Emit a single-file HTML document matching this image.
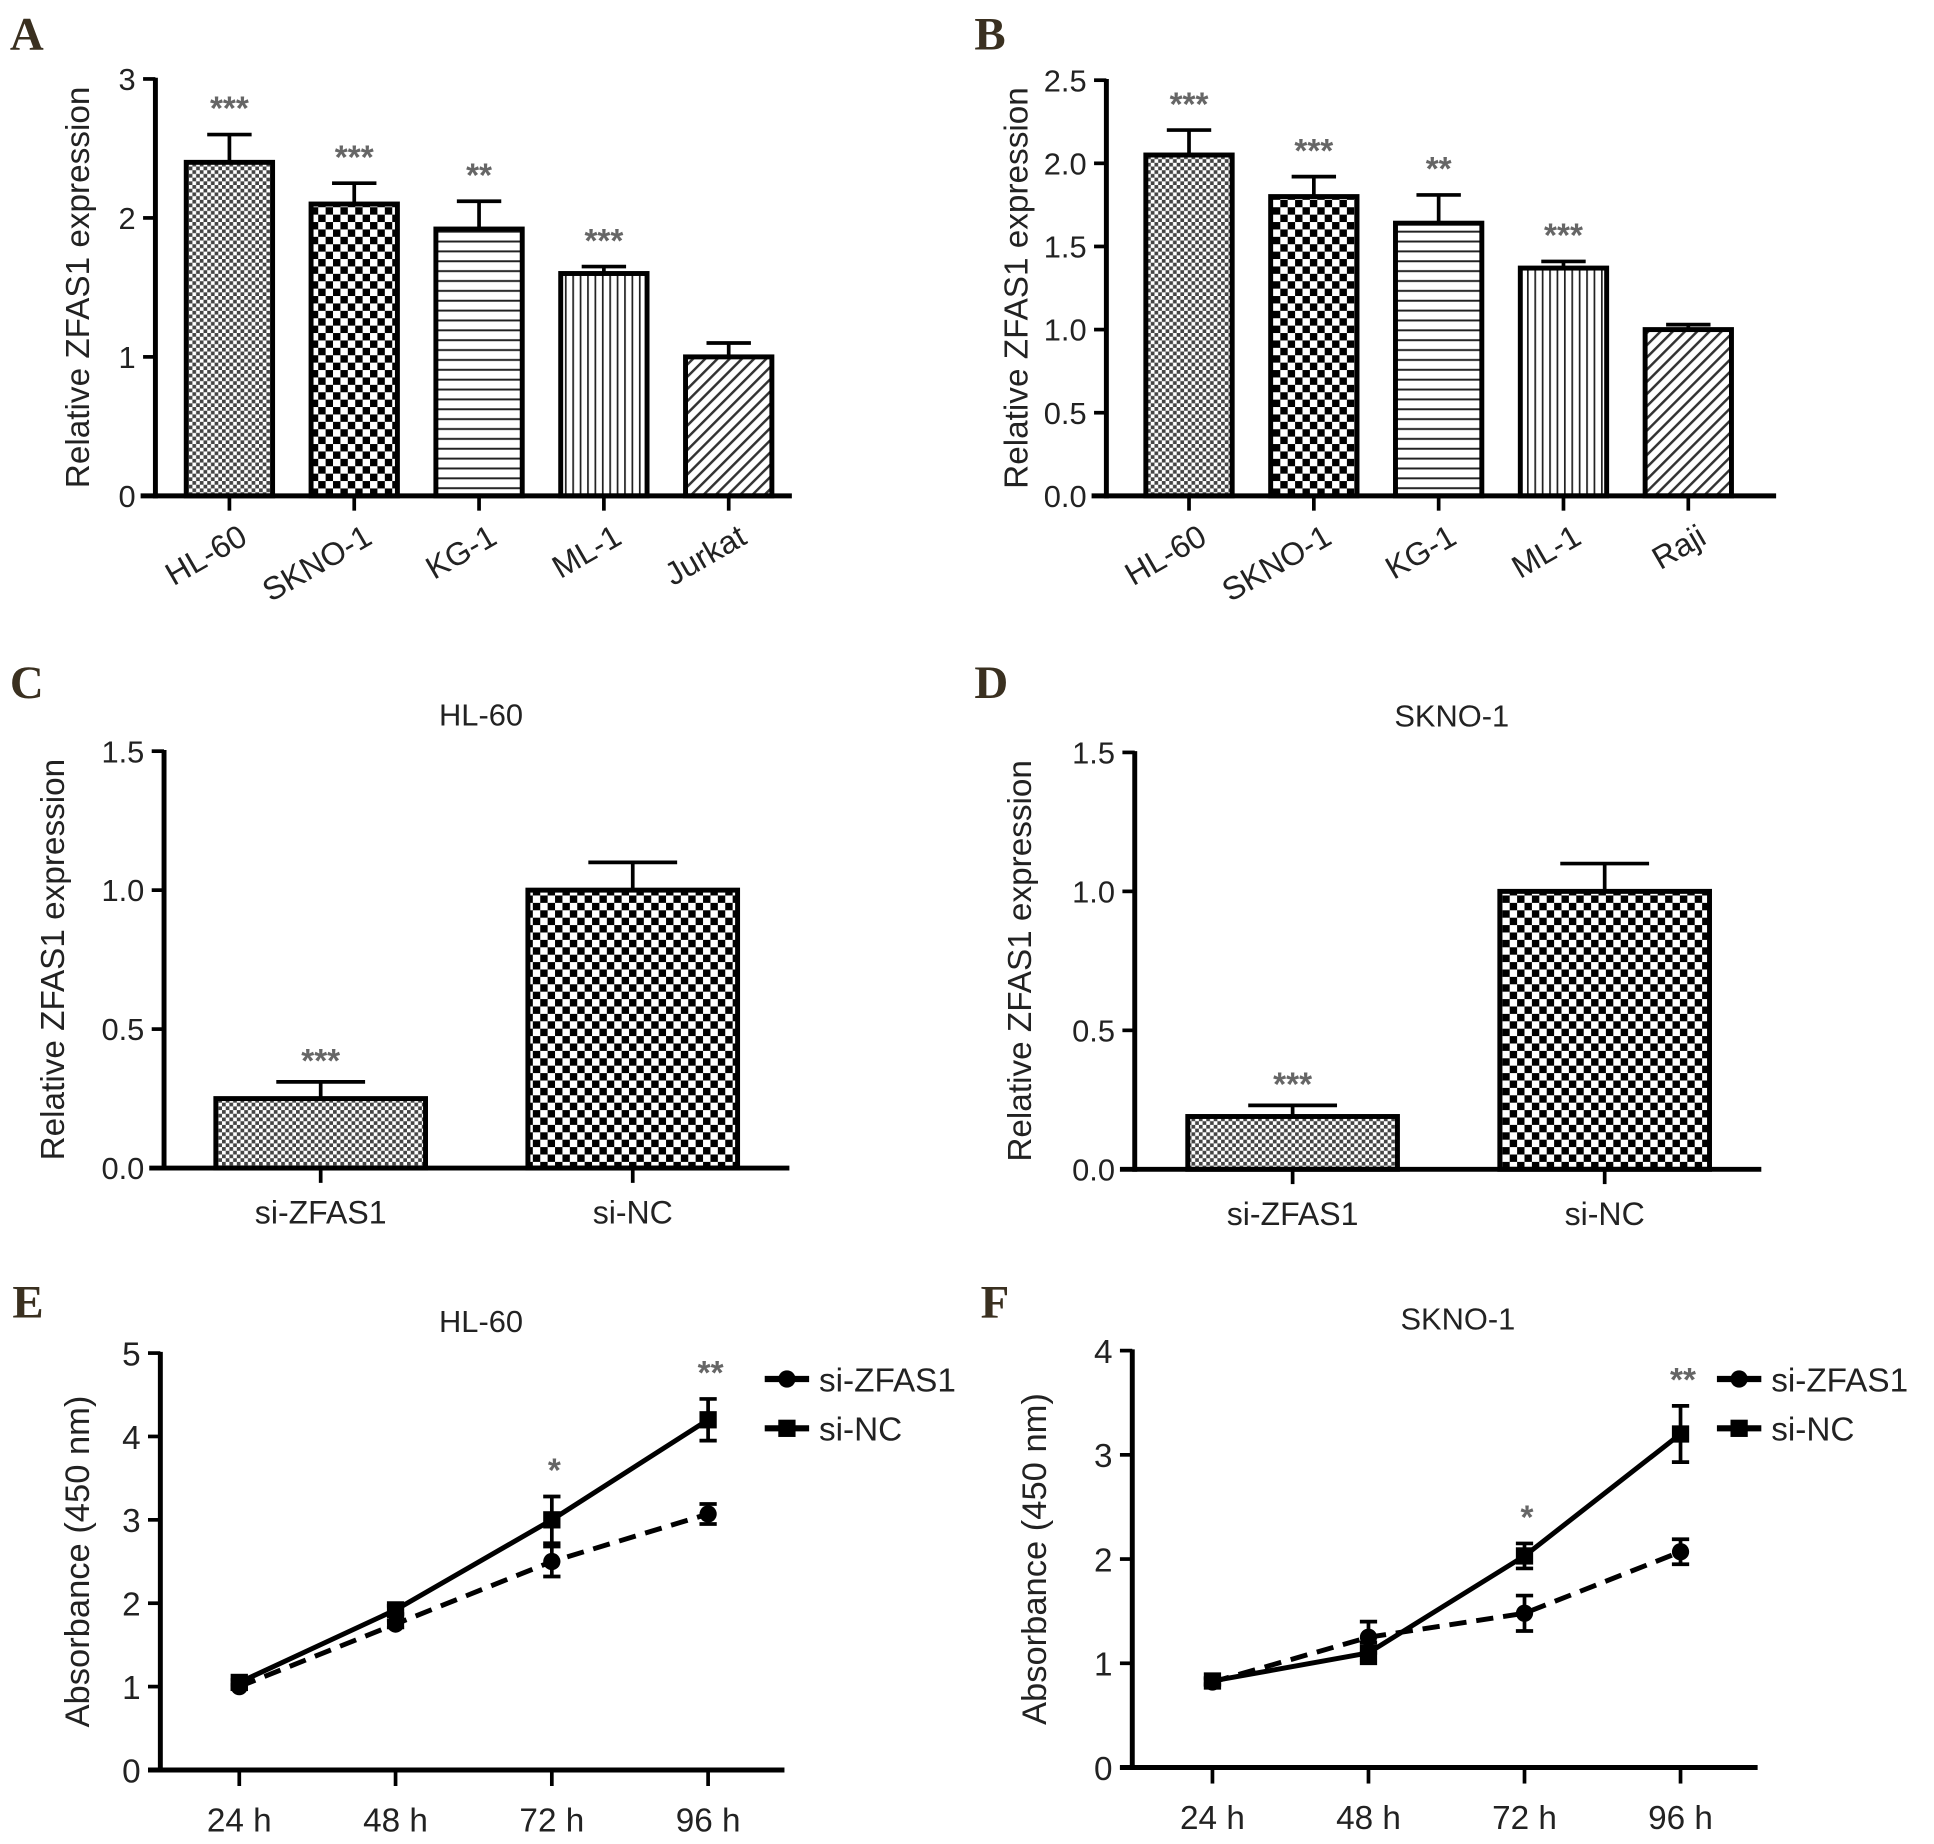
<!DOCTYPE html>
<html><head><meta charset="utf-8">
<style>
html,body{margin:0;padding:0;background:#fff;}
svg{display:block;}
text{font-family:"Liberation Sans",Arial,sans-serif;}
.letter{font-family:"Liberation Serif",serif;font-weight:bold;font-size:38px;fill:#3a3020;}
</style></head>
<body>
<svg id="fig" width="1934" height="1844" viewBox="0 0 1568 1495" xmlns="http://www.w3.org/2000/svg">
<defs>
<pattern id="pFine" width="6" height="6" patternUnits="userSpaceOnUse"><rect width="6" height="6" fill="#fff"/><rect width="3" height="3" fill="#444"/><rect x="3" y="3" width="3" height="3" fill="#444"/></pattern>
<pattern id="pCoarse" width="12" height="12" patternUnits="userSpaceOnUse"><rect width="12" height="12" fill="#fff"/><rect width="6" height="6" fill="#000"/><rect x="6" y="6" width="6" height="6" fill="#000"/></pattern>
<pattern id="pHoriz" width="8" height="8" patternUnits="userSpaceOnUse"><rect width="8" height="8" fill="#fff"/><rect y="3" width="8" height="1.6" fill="#222"/></pattern>
<pattern id="pVert" width="6" height="6" patternUnits="userSpaceOnUse"><rect width="6" height="6" fill="#fff"/><rect x="2" width="1.4" height="6" fill="#222"/></pattern>
<pattern id="pDiag" width="7" height="7" patternUnits="userSpaceOnUse" patternTransform="rotate(45)"><rect width="7" height="7" fill="#fff"/><rect width="2" height="7" fill="#333"/></pattern>
</defs>
</svg>
<script>
// ---- Panel A data ----
const aCats = ["HL-60","SKNO-1","KG-1","ML-1","Jurkat"];
const aVals = [2.4,2.1,1.92,1.6,1.0];
const aErrs = [0.2,0.15,0.2,0.05,0.1];
const aStars = ["***","***","**","***",""];
const aTicks = [0,1,2,3];
// ---- Panel B data ----
const bCats = ["HL-60","SKNO-1","KG-1","ML-1","Raji"];
const bVals = [2.05,1.8,1.64,1.37,1.0];
const bErrs = [0.15,0.12,0.17,0.04,0.03];
const bStars = ["***","***","**","***",""];
const bTicks = [0,0.5,1,1.5,2,2.5];
// ---- Panel C data ----
const cCats = ["si-ZFAS1","si-NC"];
const cVals = [0.25,1.0];
const cErrs = [0.06,0.1];
const cStars = ["***",""];
const cTicks = [0,0.5,1,1.5];
// ---- Panel D data ----
const dCats = ["si-ZFAS1","si-NC"];
const dVals = [0.19,1.0];
const dErrs = [0.04,0.1];
const dStars = ["***",""];
const dTicks = [0,0.5,1,1.5];
// ---- Panel E data ----
const eTimes = ["24 h","48 h","72 h","96 h"];
const eZfas = [1.0,1.75,2.5,3.07];
const eZfasErr = [0.03,0.04,0.18,0.12];
const eNc = [1.05,1.92,3.0,4.2];
const eNcErr = [0.03,0.05,0.28,0.25];
const eStars = ["","","*","**"];
const eTicks = [0,1,2,3,4,5];
// ---- Panel F data ----
const fTimes = ["24 h","48 h","72 h","96 h"];
const fZfas = [0.82,1.25,1.48,2.07];
const fZfasErr = [0.03,0.15,0.17,0.12];
const fNc = [0.83,1.1,2.03,3.2];
const fNcErr = [0.03,0.1,0.12,0.27];
const fStars = ["","","*","**"];
const fTicks = [0,1,2,3,4];

const svg = document.getElementById('fig');
const NS = "http://www.w3.org/2000/svg";
function mk(tag, attrs, parent){const e=document.createElementNS(NS,tag);for(const k in attrs)e.setAttribute(k,attrs[k]);(parent||svg).appendChild(e);return e;}
function txt(s, attrs, parent){const e=mk('text',attrs,parent);e.textContent=s;return e;}

function letter(s,x,y){const t=txt(s,{x:x,y:y,class:'letter'});

}

function barChart(o){
  const g=mk('g',{});
  
  
  const yMax=o.ticks[o.ticks.length-1];
  const ys=v=>o.y0-(v/yMax)*(o.y0-o.yTop);
  o.cats.forEach((c,i)=>{
    const cx=o.x0+o.firstC+i*o.step;
    const top=ys(o.vals[i]), etop=ys(o.vals[i]+o.errs[i]);
    const el=mk('line',{x1:cx,y1:top,x2:cx,y2:etop,stroke:'#000','stroke-width':3},g);
    
    
    mk('line',{x1:cx-o.capW,y1:etop,x2:cx+o.capW,y2:etop,stroke:'#000','stroke-width':3},g);
    const r=mk('rect',{x:cx-o.bw/2,y:top,width:o.bw,height:o.y0-top,fill:'url(#'+o.pats[i]+')',stroke:'#000','stroke-width':4},g);
    
    
    if(o.stars[i]){const s=txt(o.stars[i],{x:cx,y:etop-o.starOff,'text-anchor':'middle','font-size':27,'font-weight':'bold',fill:'#666'},g);
      
      }
    mk('line',{x1:cx,y1:o.y0,x2:cx,y2:o.y0+12,stroke:'#000','stroke-width':3},g);
    let lt;
    if(o.rot){lt=txt(c,{x:0,y:0,'text-anchor':'end','font-size':26,fill:'#222',transform:'translate('+(cx+16)+','+(o.y0+38)+') rotate(-30)'},g);}
    else{lt=txt(c,{x:cx,y:o.y0+45,'text-anchor':'middle','font-size':26,fill:'#222'},g);}
    
    
  });
  const ya=mk('line',{x1:o.x0,y1:o.yTop-1,x2:o.x0,y2:o.y0+2,stroke:'#000','stroke-width':4},g);
  
  const xa=mk('line',{x1:o.x0-12,y1:o.y0,x2:o.xEnd,y2:o.y0,stroke:'#000','stroke-width':4},g);
  
  o.ticks.forEach(t=>{const y=ys(t);
    mk('line',{x1:o.x0-10,y1:y,x2:o.x0,y2:y,stroke:'#000','stroke-width':3},g);
    const tl=txt(o.dec?t.toFixed(1):String(t),{x:o.x0-16,y:y+9,'text-anchor':'end','font-size':25,fill:'#222'},g);
    });
  const yt=txt('Relative ZFAS1 expression',{x:0,y:0,'text-anchor':'middle','font-size':27,fill:'#222',transform:'translate('+o.ytX+','+((o.y0+o.yTop)/2)+') rotate(-90)'},g);
  
  if(o.title){const tt=txt(o.title,{x:o.titleX,y:o.yTop-21,'text-anchor':'middle','font-size':25,fill:'#222'},g);
    }
}

function lineChart(o){
  const g=mk('g',{});
  
  
  const yMax=o.ticks[o.ticks.length-1];
  const ys=v=>o.y0-(v/yMax)*(o.y0-o.yTop);
  const xs=i=>o.xFirst+i*o.step;
  const ya=mk('line',{x1:o.x0,y1:o.yTop-1,x2:o.x0,y2:o.y0+2,stroke:'#000','stroke-width':4},g);
  
  const xa=mk('line',{x1:o.x0-10,y1:o.y0,x2:o.xEnd,y2:o.y0,stroke:'#000','stroke-width':4},g);
  
  o.ticks.forEach(t=>{const y=ys(t);
    mk('line',{x1:o.x0-10,y1:y,x2:o.x0,y2:y,stroke:'#000','stroke-width':3},g);
    const tl=txt(String(t),{x:o.x0-16,y:y+10,'text-anchor':'end','font-size':27,fill:'#222'},g);
    });
  o.times.forEach((t,i)=>{const x=xs(i);
    mk('line',{x1:x,y1:o.y0,x2:x,y2:o.y0+13,stroke:'#000','stroke-width':3},g);
    const tl=txt(t,{x:x,y:o.y0+50,'text-anchor':'middle','font-size':27,fill:'#222'},g);
    
    if(o.stars[i]){const top=ys(Math.max(o.nc[i]+o.ncErr[i],o.zf[i]+o.zfErr[i]));
      const s=txt(o.stars[i],{x:x+2,y:top-12,'text-anchor':'middle','font-size':27,'font-weight':'bold',fill:'#666'},g);
      }
  });
  function series(vals,errs,dash,marker,nm){
    const pts=vals.map((v,i)=>xs(i)+','+ys(v)).join(' ');
    const pl=mk('polyline',{points:pts,fill:'none',stroke:'#000','stroke-width':4,'stroke-dasharray':dash?'14 8':'none'},g);
    
    vals.forEach((v,i)=>{const x=xs(i),y=ys(v),y1=ys(v+errs[i]),y2=ys(v-errs[i]);
      const eb=mk('path',{d:'M'+x+' '+y1+'V'+y2+'M'+(x-7)+' '+y1+'H'+(x+7)+'M'+(x-7)+' '+y2+'H'+(x+7),stroke:'#000','stroke-width':3,fill:'none'},g);
      
      let m;
      if(marker==='c')m=mk('circle',{cx:x,cy:y,r:7,fill:'#000'},g);
      else m=mk('rect',{x:x-7,y:y-7,width:14,height:14,fill:'#000'},g);
      });
  }
  series(o.zf,o.zfErr,true,'c','si-zfas1');
  series(o.nc,o.ncErr,false,'s','si-nc');
  const yt=txt('Absorbance (450 nm)',{x:0,y:0,'text-anchor':'middle','font-size':28,fill:'#222',transform:'translate('+o.ytX+','+((o.y0+o.yTop)/2)+') rotate(-90)'},g);
  
  const tt=txt(o.title,{x:o.titleX,y:o.yTop-17,'text-anchor':'middle','font-size':25,fill:'#222'},g);
  
  const l1=mk('g',{},g);
  
  mk('line',{x1:o.legX,y1:o.legY,x2:o.legX+36,y2:o.legY,stroke:'#000','stroke-width':5},l1);
  mk('circle',{cx:o.legX+18,cy:o.legY,r:7,fill:'#000'},l1);
  txt('si-ZFAS1',{x:o.legX+44,y:o.legY+10,'font-size':27,fill:'#222'},l1);
  const l2=mk('g',{},g);
  
  mk('line',{x1:o.legX,y1:o.legY+40,x2:o.legX+36,y2:o.legY+40,stroke:'#000','stroke-width':5},l2);
  mk('rect',{x:o.legX+11,y:o.legY+33,width:14,height:14,fill:'#000'},l2);
  txt('si-NC',{x:o.legX+44,y:o.legY+50,'font-size':27,fill:'#222'},l2);
}

letter('A',8,40); letter('B',790,40); letter('C',8,566); letter('D',790,566); letter('E',10,1068); letter('F',795,1068);

barChart({name:'panel-a-chart',cats:aCats,vals:aVals,errs:aErrs,stars:aStars,ticks:aTicks,x0:126,xEnd:642,y0:402,yTop:64,firstC:60,step:101.2,bw:70,capW:18,starOff:12,pats:['pFine','pCoarse','pHoriz','pVert','pDiag'],rot:true,ytX:72,dec:false});
barChart({name:'panel-b-chart',cats:bCats,vals:bVals,errs:bErrs,stars:bStars,ticks:bTicks,x0:897,xEnd:1440,y0:402,yTop:65,firstC:67,step:101.2,bw:70,capW:18,starOff:12,pats:['pFine','pCoarse','pHoriz','pVert','pDiag'],rot:true,ytX:833,dec:true});
barChart({name:'panel-c-chart',cats:cCats,vals:cVals,errs:cErrs,stars:cStars,ticks:cTicks,x0:133,xEnd:640,y0:947,yTop:609,firstC:127,step:253,bw:170,capW:36,starOff:8,pats:['pFine','pCoarse'],rot:false,ytX:52,dec:true,title:'HL-60',titleX:390});
barChart({name:'panel-d-chart',cats:dCats,vals:dVals,errs:dErrs,stars:dStars,ticks:dTicks,x0:920,xEnd:1428,y0:948,yTop:610,firstC:128,step:253,bw:170,capW:36,starOff:8,pats:['pFine','pCoarse'],rot:false,ytX:836,dec:true,title:'SKNO-1',titleX:1177});
lineChart({name:'panel-e-chart',times:eTimes,zf:eZfas,zfErr:eZfasErr,nc:eNc,ncErr:eNcErr,stars:eStars,ticks:eTicks,x0:130,xEnd:636,y0:1435,yTop:1097,xFirst:194,step:126.7,ytX:72,title:'HL-60',titleX:390,legX:620,legY:1118});
lineChart({name:'panel-f-chart',times:fTimes,zf:fZfas,zfErr:fZfasErr,nc:fNc,ncErr:fNcErr,stars:fStars,ticks:fTicks,x0:918,xEnd:1425,y0:1433,yTop:1095,xFirst:983,step:126.5,ytX:848,title:'SKNO-1',titleX:1182,legX:1392,legY:1118});
</script>
</body></html>
